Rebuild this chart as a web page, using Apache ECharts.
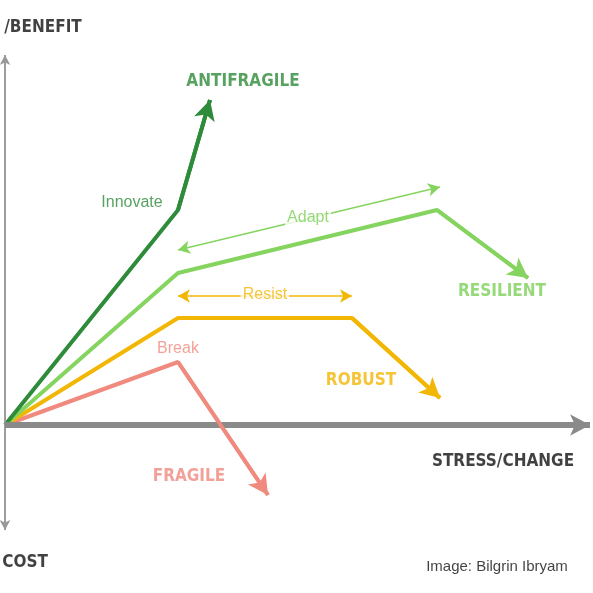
<!DOCTYPE html><html><head><meta charset="utf-8">
<script src="https://cdn.jsdelivr.net/npm/echarts@6/dist/echarts.min.js"></script>
<style>html,body{margin:0;background:#fff}#c{width:593px;height:593px}</style></head><body><div id="c"></div>
<script>
const antifragile=[[0,0],[173,215],[205,325]];
const resilient=[[0,0],[173,152],[432,215],[523,147]];
const robust=[[0,0],[173,107],[347,107],[435,27]];
const fragile=[[0,0],[173,63],[263,-70]];
const stressAxis=[[0,0],[585,0]];
const benefitAxis=[[0,370],[0,-105]];
const adaptSpan=[[173,175],[435,238]];
const resistSpan=[[173,129],[347,129]];
const labels=[
 {t:'/BENEFIT',x:38,y:397,c:'#111',b:true},
 {t:'ANTIFRAGILE',x:238,y:343,c:'#2e8b3a',b:true},
 {t:'Innovate',x:127,y:222,c:'#2e8b3a'},
 {t:'Adapt',x:303,y:207,c:'#7ccf58',bg:true},
 {t:'RESILIENT',x:497,y:133,c:'#7ccf58',b:true},
 {t:'Resist',x:260,y:130,c:'#f2b705',bg:true},
 {t:'ROBUST',x:356,y:44,c:'#f2b705',b:true},
 {t:'Break',x:173,y:76,c:'#f08a7e'},
 {t:'FRAGILE',x:184,y:-52,c:'#f08a7e',b:true},
 {t:'STRESS/CHANGE',x:498,y:-37,c:'#111',b:true},
 {t:'COST',x:20,y:-138,c:'#111',b:true},
 {t:'Image: Bilgrin Ibryam',x:492,y:-142,c:'#111',n:true}
];
function poly(d,color,w){
 const n=d.length;
 return {type:'line',data:d,showSymbol:false,silent:true,lineStyle:{color:color,width:w},z:3,
  markLine:{silent:true,symbol:['none','arrow'],symbolSize:[16,20],label:{show:false},
   lineStyle:{color:color,width:w,type:'solid'},data:[[{coord:d[n-2]},{coord:d[n-1]}]]}};
}
function span(d,color){
 return {type:'line',data:[],markLine:{silent:true,symbol:['arrow','arrow'],symbolSize:[10,12],label:{show:false},
  lineStyle:{color:color,width:1.5,type:'solid'},data:[[{coord:d[0]},{coord:d[1]}]]}};
}
const chart=echarts.init(document.getElementById('c'));
chart.setOption({
 animation:false,
 grid:{left:5,right:3,top:0,bottom:0},
 xAxis:{type:'value',min:0,max:585,show:false},
 yAxis:{type:'value',min:-168,max:425,show:false},
 series:[
  {type:'line',data:benefitAxis,showSymbol:false,lineStyle:{color:'#999',width:1.5},z:1,
   markLine:{silent:true,symbol:['arrow','arrow'],symbolSize:[8,10],label:{show:false},lineStyle:{color:'#999',width:1.5,type:'solid'},data:[[{coord:benefitAxis[0]},{coord:benefitAxis[1]}]]}},
  poly(stressAxis,'#8a8a8a',6),
  poly(fragile,'#f08a7e',4),
  poly(robust,'#f2b705',4),
  poly(resilient,'#85d45f',4),
  poly(antifragile,'#2e8b3a',4),
  span(adaptSpan,'#85d45f'),
  span(resistSpan,'#f2b705'),
  {type:'scatter',symbolSize:0,z:10,silent:true,
   data:labels.map(l=>({value:[l.x,l.y],label:{show:true,position:'inside',formatter:l.t,color:l.c,
    fontFamily:l.b?'DejaVu Sans Condensed':'Liberation Sans',fontWeight:l.b?'bold':'normal',fontSize:l.b?17:(l.n?15:16),
    backgroundColor:l.bg?'#fff':'transparent',padding:l.bg?[0,2]:0}}))}
 ]
});
</script></body></html>
